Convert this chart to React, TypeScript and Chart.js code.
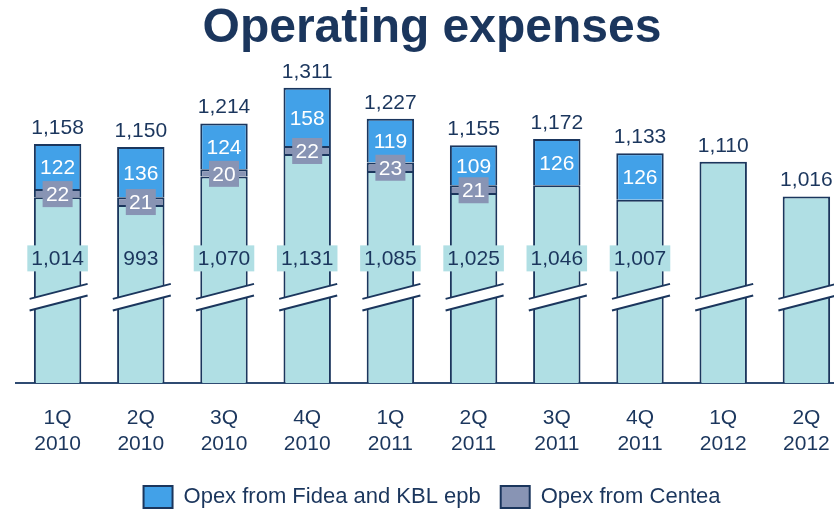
import React, { useEffect, useRef } from 'react';
import { Chart, registerables } from 'chart.js';

Chart.register(...registerables);

const categories: string[][] = [
  ['1Q', '2010'], ['2Q', '2010'], ['3Q', '2010'], ['4Q', '2010'],
  ['1Q', '2011'], ['2Q', '2011'], ['3Q', '2011'], ['4Q', '2011'],
  ['1Q', '2012'], ['2Q', '2012'],
];
const baseValues: number[] = [1014, 993, 1070, 1131, 1085, 1025, 1046, 1007, 1110, 1016];
const centeaValues: (number | null)[] = [22, 21, 20, 22, 23, 21, null, null, null, null];
const fideaValues: (number | null)[] = [122, 136, 124, 158, 119, 109, 126, 126, null, null];
const totals: number[] = [1158, 1150, 1214, 1311, 1227, 1155, 1172, 1133, 1110, 1016];
const baseLabelShown: boolean[] = [true, true, true, true, true, true, true, true, false, false];

const TITLE = 'Operating expenses';
const LABEL_FIDEA = 'Opex from Fidea and KBL epb';
const LABEL_CENTEA = 'Opex from Centea';
const LABEL_BASE = 'Opex (base)';

const FONT = '"Liberation Sans", Arial, sans-serif';
const NAVY = '#1b365d';
const BASE = '#b0dfe4';
const GREY = '#8894b4';
const BLUE = '#42a1e8';
const AXIS = '#2f4b72';

const Y_MIN = 510;
const Y_MAX = 1400;
const BREAK_VALUE = 742;
const BASE_LABEL_VALUE = 848;

const fmt = (v: number) => v.toLocaleString('en-US');

const labelPlugin = {
  id: 'opexLabels',
  afterDatasetsDraw(chart: any) {
    const ctx: CanvasRenderingContext2D = chart.ctx;
    const y = chart.scales.y;
    const metaBase = chart.getDatasetMeta(0);
    const metaC = chart.getDatasetMeta(1);
    const metaF = chart.getDatasetMeta(2);
    ctx.save();
    // axis breaks
    const y0 = y.getPixelForValue(BREAK_VALUE);
    const slope = 15 / 58;
    metaBase.data.forEach((el: any) => {
      const x = el.x;
      const l = -28, r = 30;
      const up = (dx: number) => y0 - 5.85 - dx * slope;
      const lo = (dx: number) => y0 + 5.85 - dx * slope;
      ctx.fillStyle = '#ffffff';
      ctx.beginPath();
      ctx.moveTo(x + l, up(l));
      ctx.lineTo(x + r, up(r));
      ctx.lineTo(x + r, lo(r));
      ctx.lineTo(x + l, lo(l));
      ctx.closePath();
      ctx.fill();
      ctx.strokeStyle = NAVY;
      ctx.lineWidth = 2;
      ctx.beginPath();
      ctx.moveTo(x + l, up(l));
      ctx.lineTo(x + r, up(r));
      ctx.moveTo(x + l, lo(l));
      ctx.lineTo(x + r, lo(r));
      ctx.stroke();
    });

    ctx.font = `21px ${FONT}`;
    ctx.textAlign = 'center';
    for (let i = 0; i < categories.length; i++) {
      const x = metaBase.data[i].x;
      // total
      ctx.fillStyle = NAVY;
      ctx.textBaseline = 'alphabetic';
      ctx.fillText(fmt(totals[i]), x, y.getPixelForValue(totals[i]) - 10);
      // fidea
      if (fideaValues[i] != null) {
        const el = metaF.data[i];
        ctx.fillStyle = '#ffffff';
        ctx.textBaseline = 'middle';
        ctx.fillText(fmt(fideaValues[i] as number), x, (el.y + el.base) / 2 + 2);
      }
      // centea
      if (centeaValues[i] != null) {
        const el = metaC.data[i];
        const cy = (el.y + el.base) / 2 + 1;
        ctx.fillStyle = GREY;
        ctx.fillRect(x - 15, cy - 13, 30, 26);
        ctx.fillStyle = '#ffffff';
        ctx.textBaseline = 'middle';
        ctx.fillText(fmt(centeaValues[i] as number), x, cy + 1);
      }
      // base
      if (baseLabelShown[i]) {
        const cy = y.getPixelForValue(BASE_LABEL_VALUE);
        const txt = fmt(baseValues[i]);
        const w = ctx.measureText(txt).width + 8;
        ctx.fillStyle = BASE;
        ctx.fillRect(x - w / 2, cy - 13, w, 26);
        ctx.fillStyle = NAVY;
        ctx.textBaseline = 'middle';
        ctx.fillText(txt, x, cy + 1);
      }
    }
    ctx.restore();
  },
};

export default function App() {
  const ref = useRef<HTMLCanvasElement | null>(null);
  useEffect(() => {
    if (!ref.current) return;
    const barCommon = {
      borderColor: NAVY,
      borderWidth: 2,
      barPercentage: 0.57,
      categoryPercentage: 1,
    };
    const chart = new Chart(ref.current, {
      type: 'bar',
      data: {
        labels: categories,
        datasets: [
          { label: LABEL_BASE, data: baseValues, backgroundColor: BASE, ...barCommon },
          { label: LABEL_CENTEA, data: centeaValues, backgroundColor: GREY, ...barCommon },
          { label: LABEL_FIDEA, data: fideaValues, backgroundColor: BLUE, ...barCommon },
        ],
      },
      options: {
        responsive: false,
        animation: false,
        layout: { padding: { left: 16, right: 19, top: 0, bottom: -8 } },
        plugins: {
          title: {
            display: true,
            text: TITLE,
            color: NAVY,
            font: { family: FONT, size: 48, weight: 'bold', lineHeight: 1.08 },
            padding: { top: 3, bottom: 0 },
          },
          legend: {
            position: 'bottom',
            labels: {
              filter: (item: any) => item.datasetIndex !== 0,
              sort: (a: any, b: any) => b.datasetIndex - a.datasetIndex,
              boxWidth: 29,
              boxHeight: 22,
              padding: 20,
              color: NAVY,
              font: { family: FONT, size: 22 },
            },
          },
          tooltip: { enabled: false },
        },
        scales: {
          x: {
            stacked: true,
            grid: { display: false, drawTicks: false },
            border: { display: true, color: AXIS, width: 2 },
            ticks: {
              color: NAVY,
              font: { family: FONT, size: 21, lineHeight: '26px' },
              padding: 22,
              maxRotation: 0,
              autoSkip: false,
            },
            afterFit: (s: any) => { s.height = 83; },
          },
          y: { stacked: true, display: false, min: Y_MIN, max: Y_MAX },
        },
      } as any,
      plugins: [labelPlugin],
    });
    return () => chart.destroy();
  }, []);
  return (
    <div style={{ position: 'fixed', left: 0, top: 0, width: 834, height: 510, overflow: 'hidden', background: '#ffffff' }}>
      <canvas ref={ref} width={867} height={510} style={{ display: 'block' }} />
    </div>
  );
}
